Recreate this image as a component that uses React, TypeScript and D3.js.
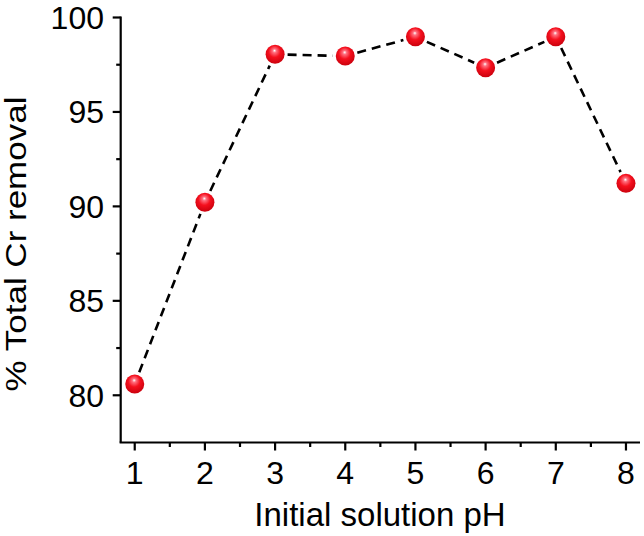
import React from "react";
import * as d3 from "d3";

const phValues = [1, 2, 3, 4, 5, 6, 7, 8];
const removal = [80.6, 90.22, 98.05, 97.96, 98.98, 97.34, 98.98, 91.22];
const xTicks = [1, 2, 3, 4, 5, 6, 7, 8];
const xMinor = [1.5, 2.5, 3.5, 4.5, 5.5, 6.5, 7.5];
const yTicks = [80, 85, 90, 95, 100];
const yMinor = [82.5, 87.5, 92.5, 97.5];
const xTitle = "Initial solution pH";
const yTitle = "% Total Cr removal";

const W = 644;
const H = 536;
const left = 120.7;
const right = 640;
const top = 17.5;
const bottom = 442.5;
const FONT = "'Liberation Sans', Arial, sans-serif";

export default function App() {
  const x = d3.scaleLinear().domain([0.8, 8.2]).range([left, right]);
  const y = d3.scaleLinear().domain([77.5, 100]).range([bottom, top]);
  const pts = phValues.map((p, i) => [x(p), y(removal[i])] as [number, number]);
  const r = 9.5;
  const gap = r + 3;
  const segs = pts.slice(1).map((b, i) => {
    const a = pts[i];
    const dx = b[0] - a[0];
    const dy = b[1] - a[1];
    const len = Math.hypot(dx, dy);
    const ux = dx / len;
    const uy = dy / len;
    return d3.line()([
      [a[0] + ux * gap, a[1] + uy * gap],
      [b[0] - ux * gap, b[1] - uy * gap],
    ]) as string;
  });

  return (
    <svg width={W} height={H} style={{ position: "absolute", left: 0, top: 0, background: "#fff" }}>
      <defs>
        <radialGradient id="ball" cx="0.47" cy="0.4" r="0.62" fx="0.47" fy="0.3">
          <stop offset="0" stopColor="#ffffff" />
          <stop offset="0.16" stopColor="#ff7080" />
          <stop offset="0.5" stopColor="#f5101e" />
          <stop offset="1" stopColor="#c8000c" />
        </radialGradient>
      </defs>
      <rect x={0} y={0} width={W} height={H} fill="#fff" />
      <g stroke="#000" strokeWidth={2.2} fill="none">
        <line x1={left} y1={top - 1} x2={left} y2={bottom} />
        <line x1={left - 1.1} y1={bottom} x2={right} y2={bottom} />
        {yTicks.map((t) => (
          <line key={"yt" + t} x1={left - 8} x2={left} y1={y(t)} y2={y(t)} />
        ))}
        {yMinor.map((t) => (
          <line key={"ym" + t} x1={left - 4.5} x2={left} y1={y(t)} y2={y(t)} />
        ))}
        {xTicks.map((t) => (
          <line key={"xt" + t} x1={x(t)} x2={x(t)} y1={bottom} y2={bottom + 8} />
        ))}
        {xMinor.map((t) => (
          <line key={"xm" + t} x1={x(t)} x2={x(t)} y1={bottom} y2={bottom + 4.5} />
        ))}
      </g>
      <g fontFamily={FONT} fontSize={32} fill="#000">
        {yTicks.map((t) => (
          <text key={"yl" + t} x={104} y={y(t)} dy="0.36em" textAnchor="end">
            {t}
          </text>
        ))}
        {xTicks.map((t) => (
          <text key={"xl" + t} x={x(t)} y={484} textAnchor="middle">
            {t}
          </text>
        ))}
      </g>
      <text x={380} y={526} textAnchor="middle" fontFamily={FONT} fontSize={33} fill="#000">
        {xTitle}
      </text>
      <text
        transform={`translate(25.5,244) rotate(-90) scale(1,0.86)`}
        textAnchor="middle"
        fontFamily={FONT}
        fontSize={35}
        fill="#000"
      >
        {yTitle}
      </text>
      <g stroke="#000" strokeWidth={2.6} fill="none" strokeDasharray="9,6">
        {segs.map((d, i) => (
          <path key={"s" + i} d={d} />
        ))}
      </g>
      {pts.map((p, i) => (
        <circle key={"p" + i} cx={p[0]} cy={p[1]} r={r} fill="url(#ball)" />
      ))}
    </svg>
  );
}
